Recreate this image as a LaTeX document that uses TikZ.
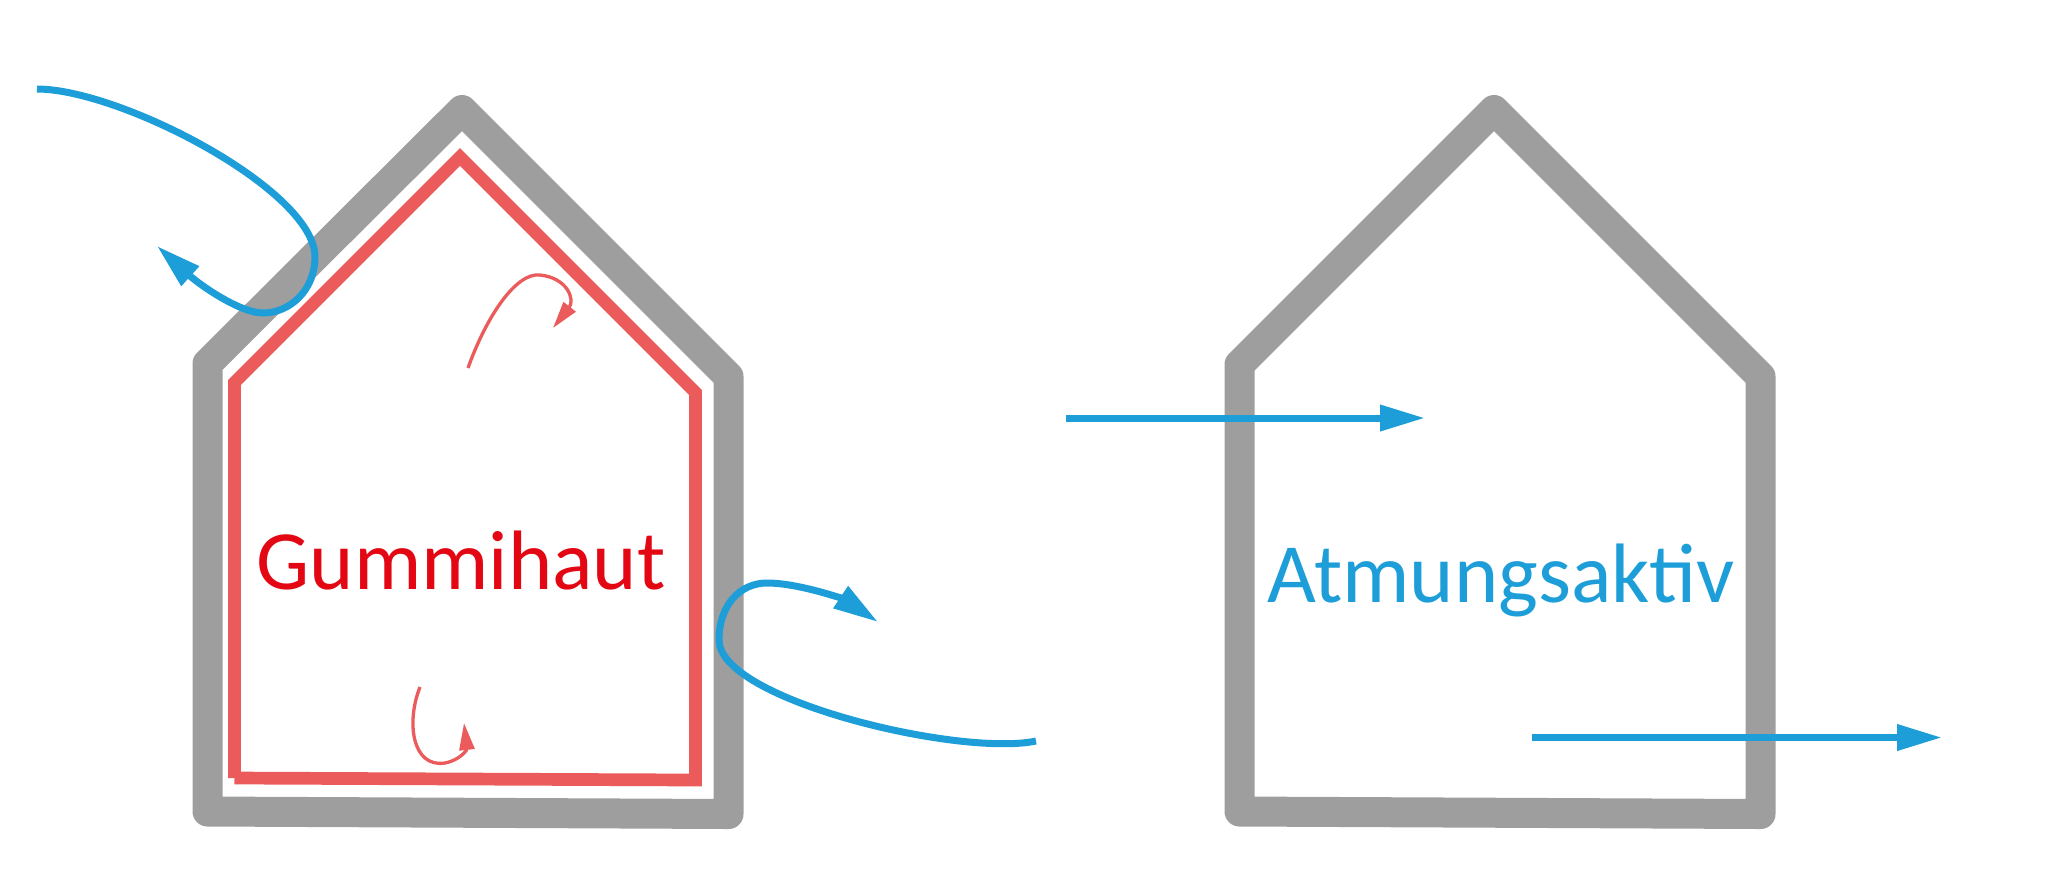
\documentclass[tikz,border=0pt]{standalone}
\usepackage{fontspec}
\setmainfont{Carlito}
\usetikzlibrary{arrows.meta}
\definecolor{wallgray}{RGB}{158,158,158}
\definecolor{skinred}{RGB}{235,91,91}
\definecolor{textred}{RGB}{227,6,19}
\definecolor{airblue}{RGB}{29,158,217}
\begin{document}
\begin{tikzpicture}[x=0.1mm, y=-0.1mm,
	wall/.style={draw=wallgray, line width=3mm, line join=round},
	skin/.style={draw=skinred, line width=1.27mm, line join=miter},
	air/.style={draw=airblue, line width=0.7mm, -{Triangle[length=4.5mm, width=2.5mm]}},
	swirl/.style={draw=skinred, line width=0.33mm, -{Triangle[length=2.7mm, width=1.5mm]}},
	housetext/.style={anchor=base, inner sep=0pt, font=\fontsize{24}{28}\selectfont}]
			\useasboundingbox (0,0) rectangle (2065,873);
			% walls
			\draw[wall] (207.5,811.5) -- (207.5,363.5) -- (462,110) -- (728.5,376.5) -- (728.5,814) -- cycle;
			\draw[wall] (1239.5,811.5) -- (1239.5,364.5) -- (1494,110) -- (1760.5,376.5) -- (1760.5,814) -- cycle;
			% rubber skin
			\draw[skin] (234.5,778) -- (234.5,382.5) -- (460,157) -- (695.5,392.5) -- (695.5,780) -- (234.5,778);
			\draw[swirl] (468,368) .. controls (485,320) and (515,272) .. (540,275) .. controls (568,278) and (575,300) .. (553,328);
			\draw[swirl] (420,687) .. controls (406,722) and (412,768) .. (445,763) .. controls (460,760) and (467,750) .. (464,723);
			% air
			\coordinate (bounceA) at (37,89);
			\coordinate (backA) at (157,246);
			\coordinate (bounceB) at (1036,741);
			\coordinate (backB) at (878,622);
			\coordinate (passA) at (1066,418);
			\coordinate (throughA) at (1425,418);
			\coordinate (passB) at (1532,737.5);
			\coordinate (throughB) at (1942,737.5);
			\draw[air] (bounceA) .. controls (120,89) and (315,190) .. (315,257) .. controls (315,290) and (290,313) .. (263,313) .. controls (240,313) and (200,285) .. (backA);
			\draw[air] (bounceB) .. controls (960,757) and (719,700) .. (719,640) .. controls (719,605) and (740,583) .. (767,583) .. controls (800,583) and (845,600) .. (backB);
			\draw[air] (passA) -- (throughA);
			\draw[air] (passB) -- (throughB);
			% labels
			\node[housetext, text=textred] (gummi) at (461,589) {Gummihaut};
			\node[housetext, text=airblue] (atmung) at (1501,602) {Atmungsaktiv};
		\end{tikzpicture}
\end{document}
